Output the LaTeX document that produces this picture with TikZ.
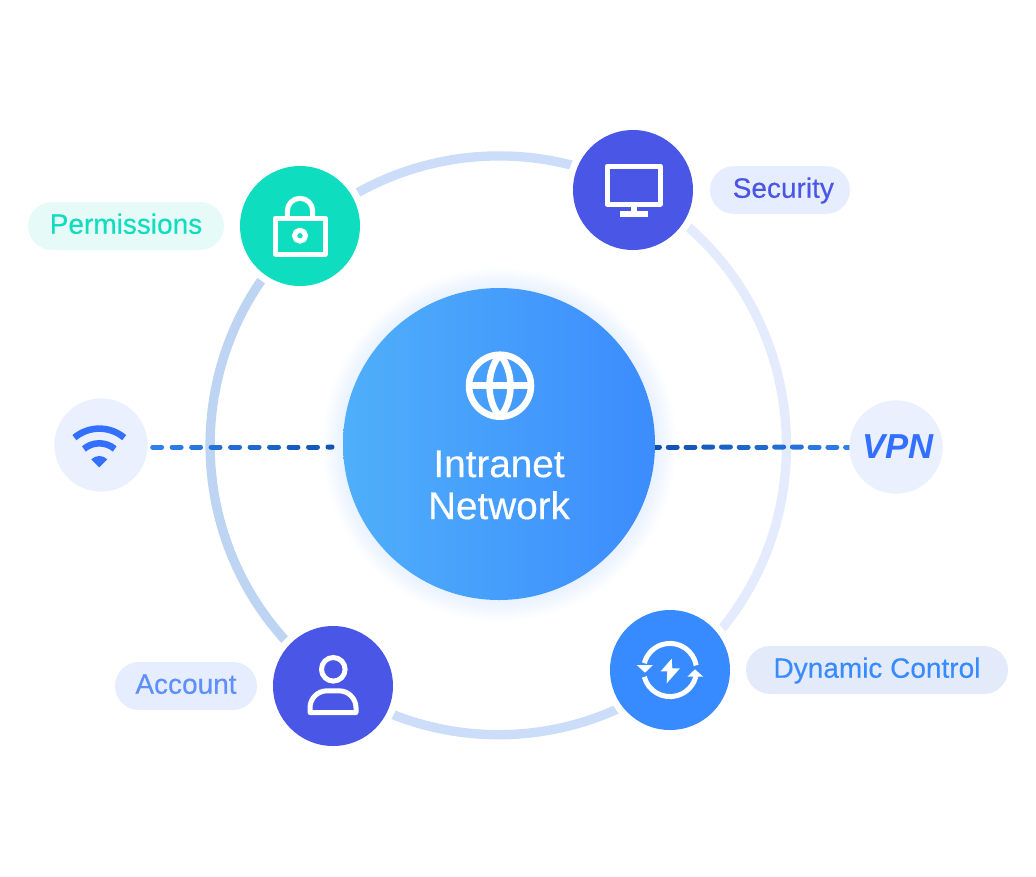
\documentclass[tikz,border=0pt]{standalone}
\usepackage{fontspec}
\setmainfont{Liberation Sans}
\newfontfamily\medfont{Liberation Sans}[RawFeature={embolden=.35}]
\usetikzlibrary{calc,backgrounds}
\definecolor{tealc}{HTML}{0FDDBF}
\definecolor{indigoc}{HTML}{4A56E6}
\definecolor{bluec}{HTML}{388BFF}
\definecolor{wifiblue}{HTML}{3370FF}
\definecolor{softblue}{HTML}{EAF0FE}
\definecolor{linklight}{HTML}{2F80EA}
\definecolor{linkdark}{HTML}{0F4FAE}
\definecolor{hubleft}{HTML}{4FAFFA}
\definecolor{hubright}{HTML}{3C8CFD}
\definecolor{ringtop}{HTML}{CBDDF8}
\definecolor{ringright}{HTML}{E3EBFD}
\definecolor{ringleft}{HTML}{BDD4F3}
\definecolor{glowc}{HTML}{E9F2FF}
\definecolor{tagblue}{HTML}{E6EDFE}
\definecolor{tagdyn}{HTML}{E3EBFB}
\definecolor{tagteal}{HTML}{E6FAF7}
\definecolor{accounttext}{HTML}{5E8FFB}
\pgfdeclareradialshading{hubglow}{\pgfpointorigin}{color(0bp)=(glowc); color(22bp)=(glowc); color(25bp)=(white); color(50bp)=(white)}
\tikzset{
  spoke/.style={circle,inner sep=0pt,minimum size=90pt,preaction={draw=white,line width=10.5pt}},
  pill/.style={rounded corners=18pt,minimum height=36pt,inner sep=0pt,text height=14pt,text depth=2.4pt,font=\medfont\fontsize{21}{25}\selectfont},
  badge/.style={circle,fill=softblue,inner sep=0pt,minimum size=70pt},
  ringseg/.style={line width=7pt},
  dashseg/.style={line width=3.75pt,line cap=round},
  icon/.style={draw=white,line width=3.75pt,line join=round},
  globe/.style={draw=white,line width=4.9pt}
}
\begin{document}
\begin{tikzpicture}[x=.75pt,y=.75pt]
  \useasboundingbox (0,0) rectangle (1036,-876);

  \node[circle,inner sep=0pt,minimum size=234pt,left color=hubleft,right color=hubright] (hub) at (499,-444) {};
  \node[text=white,align=center,font=\medfont\fontsize{29}{31.5}\selectfont] (hubtext) at (499,-485) {Intranet\\Network};

  \node[spoke,fill=tealc] (perm) at (300,-226) {};
  \node[spoke,fill=indigoc] (sec) at (633,-190) {};
  \node[spoke,fill=bluec] (dyn) at (670,-670) {};
  \node[spoke,fill=indigoc] (acc) at (333,-686) {};
  \node[badge] (wifi) at (101,-445) {};
  \node[badge,text=wifiblue,font=\fontsize{26}{30}\selectfont\bfseries\itshape] (vpn) at (896,-447) {\kern3pt VPN};

  \node[pill,fill=tagteal,text=tealc,minimum width=147pt] (permtag) at (126,-226) {Permissions};
  \node[pill,fill=tagblue,text=indigoc,minimum width=105pt] (sectag) at (780,-190) {\kern5pt Security};
  \node[pill,fill=tagblue,text=accounttext,minimum width=106.5pt] (acctag) at (186,-686) {Account};
  \node[pill,fill=tagdyn,text=bluec,minimum width=196.5pt] (dyntag) at (877,-670) {Dynamic Control};

  \begin{pgfonlayer}{background}
    \shade[shading=hubglow] (hub) circle (178);
    \draw[ringseg,ringtop] ([shift={(6.1,-3.7)}]perm.center) to[bend left=35,looseness=.935] ([shift={(.4,.8)}]sec.center);
    \draw[ringseg,ringright] ([shift={(.4,.8)}]sec.center) to[bend left=57.25,looseness=1.103] ([shift={(3.6,-5.3)}]dyn.center);
    \draw[ringseg,ringtop] ([shift={(3.6,-5.3)}]dyn.center) to[bend left=36,looseness=.941] ([shift={(2.8,1.8)}]acc.center);
    \draw[ringseg,ringleft] ([shift={(2.8,1.8)}]acc.center) to[bend left=51.75,looseness=1.054] ([shift={(6.1,-3.7)}]perm.center);
    \foreach \i [evaluate=\i as \a using .0243+.1*\i, evaluate=\i as \b using {min(.0703+.1*\i,.945)}, evaluate=\i as \p using 10*\i] in {0,...,9}
      \draw[dashseg,linkdark!\p!linklight] ($(wifi.east)!\a!(hub.west |- wifi.east)+(0,-2)$) -- ($(wifi.east)!\b!(hub.west |- wifi.east)+(0,-2)$);
    \foreach \i [evaluate=\i as \a using -.0244+.0915*\i, evaluate=\i as \b using .0216+.0915*\i, evaluate=\i as \p using 100-9*\i] in {0,...,11}
      \draw[dashseg,linkdark!\p!linklight] ($(hub.east |- vpn.west)!\a!(vpn.west)$) -- ($(hub.east |- vpn.west)!\b!(vpn.west)$);
  \end{pgfonlayer}

  \begin{scope}[shift={(perm)}]
    \draw[icon] (-24.5,8) rectangle (25,-28);
    \draw[icon] (-12.7,8) -- (-12.7,15) arc (180:0:12.7) -- (12.7,8);
    \draw[icon] (0,-9.7) circle (5.5);
  \end{scope}
  \begin{scope}[shift={(sec)}]
    \draw[icon] (-26,23.8) rectangle (27.3,-14.2);
    \fill[white] (-1.7,-16) rectangle (3.7,-23);
    \fill[white] (-13,-20.7) rectangle (14.7,-26.7);
  \end{scope}
  \begin{scope}[shift={(acc)}]
    \draw[icon] (0.3,16.7) circle (11.8);
    \draw[icon] (-23,-26.5) -- (-23,-21.8) arc (180:90:17) -- (6,-4.8) arc (90:0:17) -- (23,-26.5) -- cycle;
  \end{scope}
  \begin{scope}[shift={(dyn)}]
    \draw[icon] (10:26.6) arc (10:165:26.6);
    \fill[white] (-33.3,5) -- (-17,5) -- (-25,-2.7) -- cycle;
    \draw[icon] (195:26.6) arc (195:350:26.6);
    \fill[white] (17.3,-6.7) -- (33.3,-6.7) -- (25,.7) -- cycle;
    \fill[white] (1.7,11.3) -- (-9.3,-1.3) -- (-2.7,-1.3) -- (-3.3,-13.3) -- (10,1.7) -- (2.3,1.7) -- cycle;
  \end{scope}
  \begin{scope}[shift={(wifi)}]
    \draw[wifiblue,line width=4.9pt] (-1.7,-22.3) ++(130:38.7) arc (130:50:38.7);
    \draw[wifiblue,line width=4.9pt] (-1.7,-22.3) ++(130:24) arc (130:50:24);
    \fill[wifiblue] (-1.7,-22.3) -- ++(135:11.3) arc (135:45:11.3) -- cycle;
  \end{scope}
  \begin{scope}[shift={(hub)}]
    \draw[globe] (1,58.3) circle (31);
    \draw[globe] (1,89.3) .. controls (15,73) and (15,43) .. (1,27.3);
    \draw[globe] (1,89.3) .. controls (-13,73) and (-13,43) .. (1,27.3);
    \draw[globe] (-30,58.3) -- (32,58.3);
  \end{scope}
\end{tikzpicture}
\end{document}
